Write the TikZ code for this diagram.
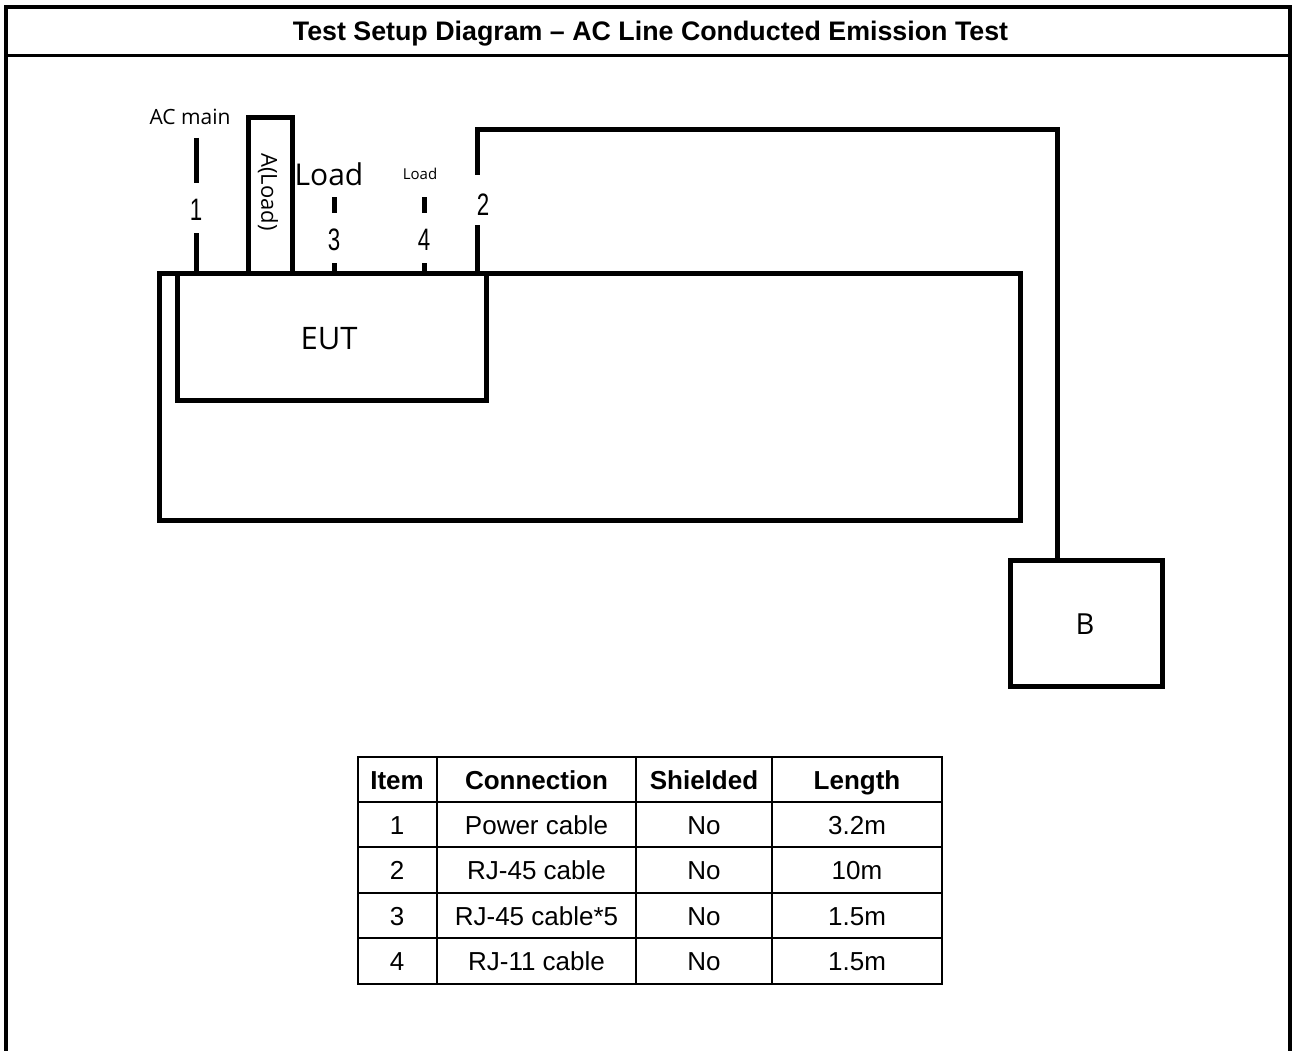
\documentclass[tikz,border=0pt]{standalone}
\usepackage{fontspec}
\setmainfont{Liberation Sans}
\newfontfamily\uifont{Open Sans}
\begin{document}
\begin{tikzpicture}[x=1pt,y=-1pt,
  heavy/.style={line width=5pt, line join=miter},
  frameline/.style={line width=4pt},
  cell/.style={inner sep=0pt, anchor=base, font=\fontsize{26}{26}\selectfont},
  hcell/.style={cell, font=\fontsize{26}{26}\selectfont\bfseries},
  lbl/.style={inner sep=0pt, anchor=center},
  digit/.style={lbl, font=\fontsize{31}{31}\rmfamily, xscale=0.72},
  tabline/.style={line width=1.6pt},
  tabouter/.style={line width=2.6pt}]
\useasboundingbox (0,0) rectangle (1292,1051);
% frame
\draw[frameline] (6,1051) -- (6,7) -- (1290,7) -- (1290,1051);
\draw[line width=3pt] (6,55.5) -- (1290,55.5);
\node[inner sep=0pt, anchor=base, font=\fontsize{26.8}{26.8}\selectfont\bfseries] (title) at (650.5,41) {Test Setup Diagram – AC Line Conducted Emission Test};
% boxes
\node[heavy, draw, outer sep=0pt, minimum width=861pt, minimum height=247pt, inner sep=0pt, anchor=north west] (tbl) at (159.5,273) {};
\coordinate (eutNW) at (177,273);
\coordinate (eutSE) at (486,400);
\draw[heavy] (eutNW) rectangle (eutSE);
\node[lbl, font=\uifont\fontsize{31}{31}\selectfont] (eut) at (329,339) {EUT};
\node[heavy, draw, outer sep=0pt, minimum width=152pt, minimum height=126pt, inner sep=0pt, anchor=north west] (bbox) at (1010,560) {};
\node[lbl, font=\uifont\fontsize{29}{29}\selectfont] (blbl) at (1085,624) {B};
% A(Load) loop
\coordinate (aL) at (248,273);
\coordinate (aR) at (292,273);
\draw[heavy] (aL) -- (248,118) -- (292,118) -- (aR);
\node[lbl, rotate=-90, font=\uifont\fontsize{22}{22}\selectfont] (aload) at (268,192) {A(Load)};
% labels
\node[lbl, font=\uifont\fontsize{21}{21}\selectfont] (acmain) at (190,117) {AC main};
\node[lbl, font=\uifont\fontsize{30}{30}\selectfont] (loadbig) at (329,174) {Load};
\node[lbl, font=\uifont\fontsize{15}{15}\selectfont] (loadsm) at (420,174) {Load};
% cable 1
\node[digit] (n1) at (196,210) {1};
\draw[heavy] (196,138) -- (n1.north |- 0,183);
\draw[heavy] (n1.south |- 0,233) -- (196,273);
% cable 3
\node[digit] (n3) at (334,240) {3};
\draw[heavy] (334,197) -- (334,213);
\draw[heavy] (n3.south |- 0,263) -- (334,273);
% cable 4
\node[digit] (n4) at (424,240) {4};
\draw[heavy] (424,197) -- (424,213);
\draw[heavy] (n4.south |- 0,263) -- (424,273);
% cable 2
\node[digit] (n2) at (483,205) {2};
\draw[heavy] (477,273) -- (477,225);
\draw[heavy] (477,175) -- (477,130) -- (1057.5,130) -- (bbox.north -| 1057.5,0);
% table
\draw[tabouter] (358,757) rectangle (942,984);
\foreach \y in {802,847,893,938} \draw[tabline] (358,\y) -- (942,\y);
\foreach \x in {437,636,772} \draw[tabline] (\x,757) -- (\x,984);
\node[hcell] (h1) at (397,789) {Item};
\node[hcell] (h2) at (536.5,789) {Connection};
\node[hcell] (h3) at (704,789) {Shielded};
\node[hcell] (h4) at (857,789) {Length};
\node[cell] (r1a) at (397,834) {1};
\node[cell] (r1b) at (536.5,834) {Power cable};
\node[cell] (r1c) at (704,834) {No};
\node[cell] (r1d) at (857,834) {3.2m};
\node[cell] (r2a) at (397,879.5) {2};
\node[cell] (r2b) at (536.5,879.5) {RJ-45 cable};
\node[cell] (r2c) at (704,879.5) {No};
\node[cell] (r2d) at (857,879.5) {10m};
\node[cell] (r3a) at (397,925) {3};
\node[cell] (r3b) at (536.5,925) {RJ-45 cable*5};
\node[cell] (r3c) at (704,925) {No};
\node[cell] (r3d) at (857,925) {1.5m};
\node[cell] (r4a) at (397,970.5) {4};
\node[cell] (r4b) at (536.5,970.5) {RJ-11 cable};
\node[cell] (r4c) at (704,970.5) {No};
\node[cell] (r4d) at (857,970.5) {1.5m};
\end{tikzpicture}
\end{document}
